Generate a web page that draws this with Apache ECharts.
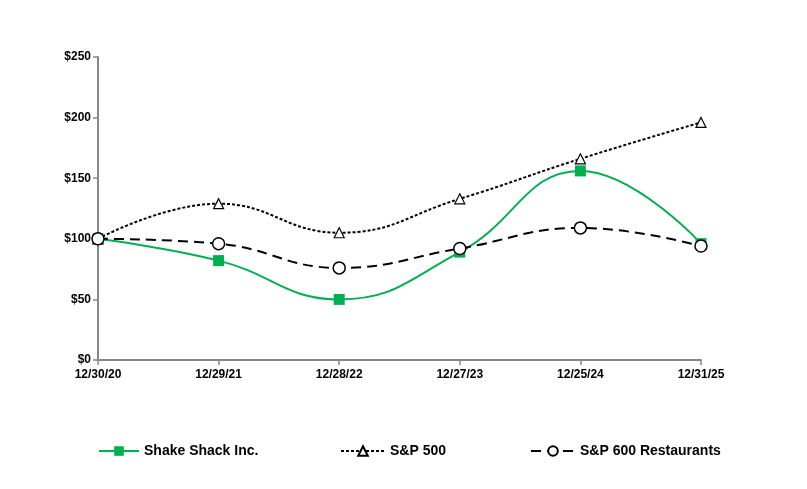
<!DOCTYPE html>
<html><head><meta charset="utf-8">
<script src="https://cdn.jsdelivr.net/npm/echarts@6/dist/echarts.min.js"></script>
<style>html,body{margin:0;padding:0;background:#fff}#c{width:807px;height:489px}</style>
</head><body><div id="c"></div>
<script>
const categories = ['12/30/20','12/29/21','12/28/22','12/27/23','12/25/24','12/31/25'];
const shakeShack = [100, 82, 50, 89, 156, 96];
const sp500 = [100, 129, 105, 133, 166, 196];
const sp600Restaurants = [100, 96, 76, 92, 109, 94];
const yTicks = [0, 50, 100, 150, 200, 250];

const font = 'Liberation Sans, Arial, sans-serif';
const chart = echarts.init(document.getElementById('c'));
const legendText = {fontFamily: font, fontWeight: 'bold', fontSize: 14, color: '#000'};
chart.setOption({
  animation: false,
  grid: {left: 98, right: 106, top: 57, bottom: 129},
  legend: [
    {data: ['Shake Shack Inc.'], left: 93, top: 439, itemWidth: 40, itemHeight: 12, itemGap: 6, textStyle: legendText},
    {data: ['S&P 500'], left: 335, top: 439, itemWidth: 44, itemHeight: 12, textStyle: legendText},
    {data: ['S&P 600 Restaurants'], left: 525, top: 439, itemWidth: 44, itemHeight: 12, textStyle: legendText}
  ],
  xAxis: {
    type: 'category', data: categories, boundaryGap: false,
    axisLine: {lineStyle: {color: '#868686', width: 2}},
    axisTick: {show: true, length: 5, alignWithLabel: true, lineStyle: {color: '#868686', width: 1.5}},
    axisLabel: {fontFamily: font, fontWeight: 'bold', fontSize: 12, color: '#000', margin: 9}
  },
  yAxis: {
    type: 'value', min: 0, max: 250, interval: 50,
    axisLine: {show: true, lineStyle: {color: '#868686', width: 2}},
    axisTick: {show: true, length: 5, lineStyle: {color: '#868686', width: 1.5}},
    splitLine: {show: false},
    axisLabel: {fontFamily: font, fontWeight: 'bold', fontSize: 12, color: '#000', margin: 7,
      formatter: v => yTicks.includes(v) ? '$' + v : ''}
  },
  series: [
    {name: 'Shake Shack Inc.', type: 'line', data: shakeShack, smooth: 0.45,
      symbol: 'rect', symbolSize: 11, itemStyle: {color: '#00B050'},
      lineStyle: {color: '#00B050', width: 2}, z: 2},
    {name: 'S&P 500', type: 'line', data: sp500, smooth: 0.45,
      symbol: 'triangle', symbolSize: 10, itemStyle: {color: '#fff', borderColor: '#000', borderWidth: 1.2},
      lineStyle: {color: '#000', width: 2, type: [3, 2]}, z: 3},
    {name: 'S&P 600 Restaurants', type: 'line', data: sp600Restaurants, smooth: 0.45,
      symbol: 'circle', symbolSize: 12, itemStyle: {color: '#fff', borderColor: '#000', borderWidth: 1.5},
      lineStyle: {color: '#000', width: 2, type: [10, 6]}, z: 4}
  ]
});
</script></body></html>
